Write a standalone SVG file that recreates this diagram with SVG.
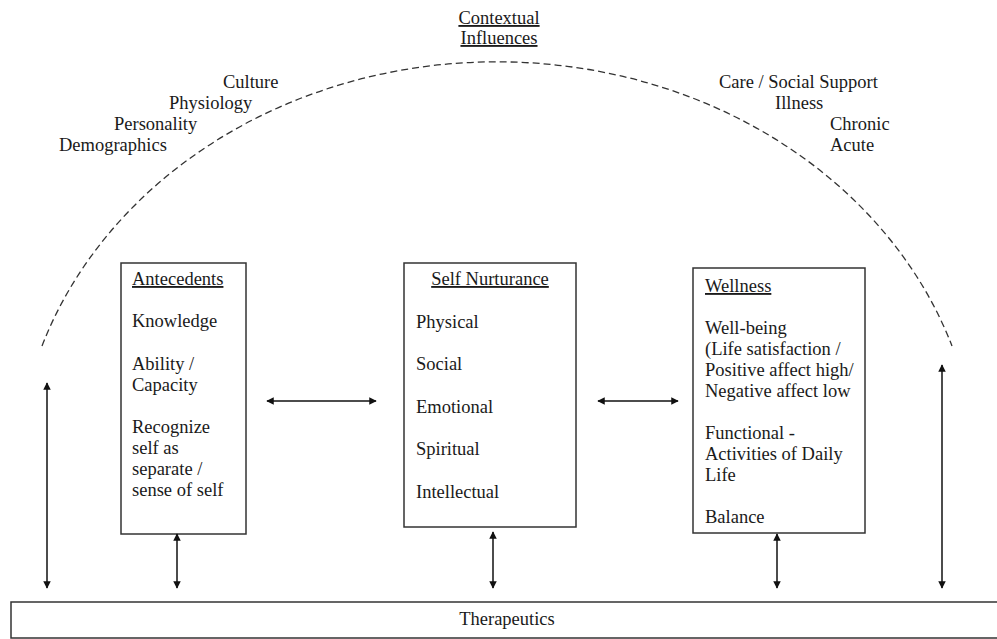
<svg xmlns="http://www.w3.org/2000/svg" width="997" height="639" viewBox="0 0 997 639">
<defs>
<marker id="ah" viewBox="0 0 10 10" refX="9" refY="5" markerWidth="5" markerHeight="5" orient="auto-start-reverse" markerUnits="strokeWidth">
<path d="M0,0 L10,5 L0,10 z" fill="#111"/>
</marker>
<style>
text{font-family:"Liberation Serif","Times New Roman",serif;font-size:18.5px;fill:#1a1a1a}
.u{text-decoration:underline}
.mid{text-anchor:middle}
.box{fill:#fff;stroke:#333;stroke-width:1.5}
.arr{stroke:#111;stroke-width:1.5;fill:none;marker-start:url(#ah);marker-end:url(#ah)}
.arc{fill:none;stroke:#333;stroke-width:1.3;stroke-dasharray:7 4}
</style>
</defs>
<rect width="997" height="639" fill="#fff"/>

<g id="contextual">
<path class="arc" d="M42,346 A480,417 0 0 1 952,346"/>
<text class="u mid" x="499" y="24">Contextual</text>
<text class="u mid" x="499" y="44">Influences</text>
<text x="223" y="88">Culture</text>
<text x="169" y="109">Physiology</text>
<text x="114" y="130">Personality</text>
<text x="59" y="151">Demographics</text>
<text x="719" y="88">Care / Social Support</text>
<text x="775" y="109">Illness</text>
<text x="830" y="130">Chronic</text>
<text x="830" y="151">Acute</text>
</g>

<g id="antecedents">
<rect class="box" x="121" y="263" width="125" height="271"/>
<text class="u" x="132" y="285">Antecedents</text>
<text x="132" y="327">Knowledge</text>
<text x="132" y="370">Ability /</text>
<text x="132" y="391">Capacity</text>
<text x="132" y="433">Recognize</text>
<text x="132" y="454">self as</text>
<text x="132" y="475">separate /</text>
<text x="132" y="496">sense of self</text>
</g>

<g id="self-nurturance">
<rect class="box" x="404" y="263" width="172" height="264"/>
<text class="u mid" x="490" y="285">Self Nurturance</text>
<text x="416" y="327.5">Physical</text>
<text x="416" y="370">Social</text>
<text x="416" y="412.5">Emotional</text>
<text x="416" y="455">Spiritual</text>
<text x="416" y="497.5">Intellectual</text>
</g>

<g id="wellness">
<rect class="box" x="693" y="268" width="172" height="265"/>
<text class="u" x="705" y="292">Wellness</text>
<text x="705" y="334">Well-being</text>
<text x="705" y="355">(Life satisfaction /</text>
<text x="705" y="376">Positive affect high/</text>
<text x="705" y="397">Negative affect low</text>
<text x="705" y="439">Functional -</text>
<text x="705" y="460">Activities of Daily</text>
<text x="705" y="481">Life</text>
<text x="705" y="523">Balance</text>
</g>

<g id="therapeutics">
<rect class="box" x="11" y="602" width="995" height="36"/>
<text class="mid" x="507" y="625">Therapeutics</text>
</g>

<g id="connectors">
<line class="arr" x1="267" y1="401" x2="376" y2="401"/>
<line class="arr" x1="598" y1="401" x2="678" y2="401"/>
<line class="arr" x1="47" y1="383" x2="47" y2="588"/>
<line class="arr" x1="177" y1="534" x2="177" y2="588"/>
<line class="arr" x1="493" y1="532" x2="493" y2="588"/>
<line class="arr" x1="777" y1="534" x2="777" y2="588"/>
<line class="arr" x1="942" y1="365" x2="942" y2="588"/>
</g>
</svg>
